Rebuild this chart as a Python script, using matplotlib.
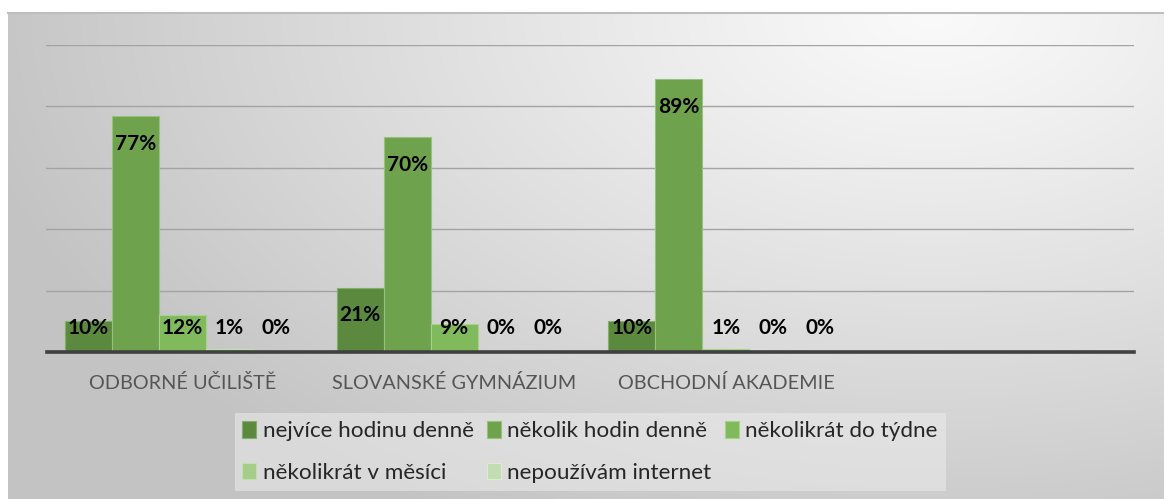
import numpy as np
import matplotlib
matplotlib.use('Agg')
import matplotlib.pyplot as plt

plt.rcParams['font.family'] = ['Lato', 'DejaVu Sans']

# data
categories = ['ODBORNÉ UČILIŠTĚ', 'SLOVANSKÉ GYMNÁZIUM', 'OBCHODNÍ AKADEMIE']
series_names = ['nejvíce hodinu denně', 'několik hodin denně', 'několikrát do týdne',
                'několikrát v měsíci', 'nepoužívám internet']
nejvice_hodinu = [0.10, 0.21, 0.10]
nekolik_hodin = [0.77, 0.70, 0.89]
do_tydne = [0.12, 0.09, 0.01]
v_mesici = [0.01, 0.00, 0.00]
nepouzivam = [0.00, 0.00, 0.00]
series_values = [nejvice_hodinu, nekolik_hodin, do_tydne, v_mesici, nepouzivam]

colors = ['#5b8a3e', '#6fa24d', '#80ba5c', '#a4cd8a', '#c4dcb4']
edge_colors = ['#86ad6c', '#97c27c', '#a6d28a', '#c2e0ae', '#dcecd2']

W, H = 1164, 499
fig = plt.figure(figsize=(W / 100, H / 100), dpi=100, facecolor='white')

# grey radial gradient background of the chart area
bg = fig.add_axes([8 / W, 0, 1 - 8 / W, (H - 13) / H])
ny, nx = 200, 460
yy, xx = np.mgrid[0:1:ny * 1j, 0:1:nx * 1j]
d = np.sqrt(((xx - 0.8) / 0.85) ** 2 + ((yy - 0.0) / 1.2) ** 2)
d = np.clip(d, 0, 1)
shade = 0.98 - (0.98 - 0.765) * d ** 1.1
bg.imshow(np.dstack([shade] * 3), aspect='auto', extent=[0, 1, 1, 0], interpolation='bilinear')
bg.plot([0, 1], [0.0, 0.0], color='#bdbdbd', lw=1.5, clip_on=False)
bg.set_xlim(0, 1)
bg.set_ylim(1, 0)
bg.axis('off')

ax = fig.add_axes([46.5 / W, (H - 352) / H, 1087 / W, 307 / H])
ax.set_facecolor('none')
ax.set_zorder(2)

x = np.arange(len(categories))
bw = 0.1728
bars = []
for i, vals in enumerate(series_values):
    pos = x + (i - 2) * bw
    b = ax.bar(pos, vals, width=bw, color=colors[i], edgecolor=edge_colors[i], linewidth=0.8,
               label=series_names[i], zorder=3)
    bars.append(b)
    for px, v in zip(pos, vals):
        ax.text(px, max(v - 0.091, 0.078), f'{v * 100:.0f}%', ha='center', va='center',
                fontsize=15, fontweight='bold', color='black', zorder=4)

ax.set_xlim(-0.5, 3.5)  # fourth category slot is empty
ax.set_ylim(0, 1)
ax.set_yticks(np.arange(0, 1.01, 0.2))
ax.yaxis.grid(True, color='#a3a3a3', linewidth=1.0, zorder=1)
ax.tick_params(axis='y', left=False, labelleft=False)
for s in ['top', 'right', 'left']:
    ax.spines[s].set_visible(False)
ax.spines['bottom'].set_color('#404040')
ax.spines['bottom'].set_linewidth(2.6)
ax.spines['bottom'].set_zorder(5)
ax.set_xticks(x)
ax.set_xticklabels(categories, fontsize=14.3, color='#555555')
ax.tick_params(axis='x', length=0, pad=16)

# legend filled row by row like the original
order = [0, 3, 1, 4, 2]
leg = fig.legend([bars[k] for k in order], [series_names[k] for k in order],
                 loc='center', bbox_to_anchor=(590 / W, (H - 452) / H), ncol=3,
                 fontsize=16.2, frameon=True, handlelength=0.6, handleheight=0.75,
                 handletextpad=0.3, columnspacing=0.6, labelspacing=0.95,
                 borderpad=0.35, labelcolor='#262626')
leg.get_frame().set_facecolor('#ececec')
leg.get_frame().set_alpha(0.55)
leg.get_frame().set_edgecolor('none')
leg.get_frame().set_boxstyle('square', pad=0)

fig.savefig('out.png', dpi=100, facecolor='white')
